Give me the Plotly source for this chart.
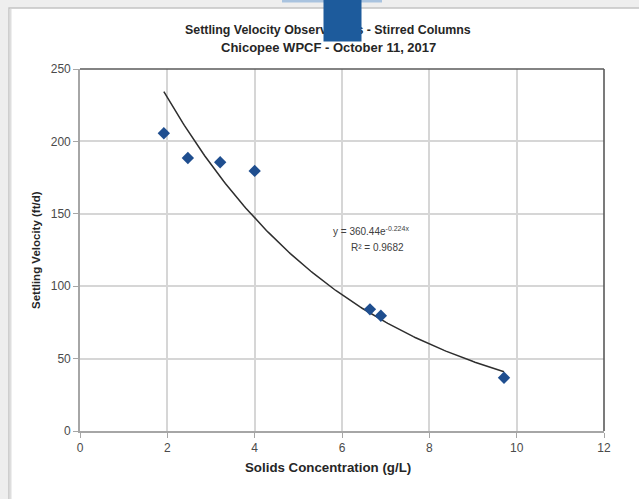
import numpy as np
import plotly.graph_objects as go

# Observed settling velocities in stirred columns
solids_conc = [1.92, 2.47, 3.21, 4.00, 6.64, 6.89, 9.71]      # g/L
settling_vel = [205.6, 188.5, 185.6, 179.6, 84.0, 79.6, 36.8]  # ft/d

# Exponential fit y = a * exp(b * x)
fit_a = 360.44
fit_b = -0.224
fit_r2 = 0.9682

x_ticks = [0, 2, 4, 6, 8, 10, 12]
y_ticks = [0, 50, 100, 150, 200, 250]

title_lines = ["Settling Velocity Observations - Stirred Columns",
               "Chicopee WPCF - October 11, 2017"]
x_title = "Solids Concentration (g/L)"
y_title = "Settling Velocity (ft/d)"

W, H = 639, 499
L, R, T, B = 80, 35, 69, 68
PW, PH = W - L - R, H - T - B


def px(x):
    return (x - L) / PW


def py(y):
    return (H - B - y) / PH


fit_x = np.linspace(min(solids_conc), max(solids_conc), 200)
fit_y = fit_a * np.exp(fit_b * fit_x)

sans = "Liberation Sans, Arial, sans-serif"

fig = go.Figure()
fig.add_trace(go.Scatter(
    x=fit_x, y=fit_y, mode="lines",
    line=dict(color="#2e2e2e", width=1.5),
    hoverinfo="skip", showlegend=False))
fig.add_trace(go.Scatter(
    x=solids_conc, y=settling_vel, mode="markers",
    marker=dict(symbol="diamond", size=9.5, color="#1f4e8f"),
    showlegend=False))

shapes = [
    # white card on a light grey backdrop
    dict(type="rect", xref="paper", yref="paper", layer="below",
         x0=px(9), x1=px(W + 5), y0=py(H + 5), y1=py(8),
         fillcolor="white", line=dict(color="#c4c4c4", width=1.5)),
    dict(type="line", xref="paper", yref="paper", layer="below",
         x0=px(10.5), x1=px(10.5), y0=py(H + 5), y1=py(9),
         line=dict(color="#dedede", width=2)),
    # light tab at the top edge
    dict(type="rect", xref="paper", yref="paper", layer="below",
         x0=px(282), x1=px(382), y0=py(2.5), y1=py(-2),
         fillcolor="#a9c3df", line=dict(width=0)),
    # plot-area frame: dark top and right edges
    dict(type="line", xref="paper", yref="paper", layer="above",
         x0=0, x1=1, y0=1, y1=1, line=dict(color="#5a5a5a", width=1.6)),
    dict(type="line", xref="paper", yref="paper", layer="above",
         x0=1, x1=1, y0=0, y1=1, line=dict(color="#5a5a5a", width=1.6)),
]

annotations = [
    dict(text="<b>" + title_lines[0] + "</b>", x=px(328), y=py(30),
         xref="paper", yref="paper", showarrow=False,
         xanchor="center", yanchor="middle",
         font=dict(family=sans, size=12.4, color="#262626")),
    dict(text="<b>" + title_lines[1] + "</b>", x=px(328), y=py(47.5),
         xref="paper", yref="paper", showarrow=False,
         xanchor="center", yanchor="middle",
         font=dict(family=sans, size=13.0, color="#262626")),
    # dark blue tab sitting over the title
    dict(text="&nbsp;", x=px(323), y=py(-1), xref="paper", yref="paper",
         showarrow=False, xanchor="left", yanchor="top",
         width=37, height=41, borderpad=0, bgcolor="#1d5b9c",
         font=dict(family=sans, size=10, color="#1d5b9c")),
    dict(text="<b>" + x_title + "</b>", x=px(328), y=py(468),
         xref="paper", yref="paper", showarrow=False,
         xanchor="center", yanchor="middle",
         font=dict(family=sans, size=13.3, color="#262626")),
    dict(text="<b>" + y_title + "</b>", x=px(36), y=py(250),
         xref="paper", yref="paper", showarrow=False, textangle=-90,
         xanchor="center", yanchor="middle",
         font=dict(family=sans, size=11.5, color="#262626")),
    dict(text=f"y = {fit_a}e<sup>{fit_b}x</sup>", x=px(371), y=py(231),
         xref="paper", yref="paper", showarrow=False,
         xanchor="center", yanchor="middle",
         font=dict(family=sans, size=10, color="#404040")),
    dict(text=f"R² = {fit_r2}", x=px(377), y=py(247),
         xref="paper", yref="paper", showarrow=False,
         xanchor="center", yanchor="middle",
         font=dict(family=sans, size=10, color="#404040")),
]

fig.update_layout(
    width=W, height=H,
    margin=dict(l=L, r=R, t=T, b=B, autoexpand=False),
    paper_bgcolor="#eeeeee",
    plot_bgcolor="white",
    shapes=shapes,
    annotations=annotations,
    hovermode=False,
)
fig.update_xaxes(
    range=[0, 12], tickvals=x_ticks, ticktext=[str(v) for v in x_ticks],
    showgrid=True, gridcolor="#d6d6d6", gridwidth=1.5,
    showline=True, linecolor="#a6a6a6", linewidth=1.6,
    ticks="outside", ticklen=5, tickcolor="#a6a6a6", tickwidth=1.3,
    zeroline=False,
    tickfont=dict(family=sans, size=12, color="#4a4a4a"),
)
fig.update_yaxes(
    range=[0, 250], tickvals=y_ticks, ticktext=[str(v) for v in y_ticks],
    showgrid=True, gridcolor="#d6d6d6", gridwidth=1.5,
    showline=True, linecolor="#a6a6a6", linewidth=1.6,
    ticks="outside", ticklen=5, tickcolor="#a6a6a6", tickwidth=1.3,
    zeroline=False,
    tickfont=dict(family=sans, size=12, color="#4a4a4a"),
)

fig.write_html("out.html")
